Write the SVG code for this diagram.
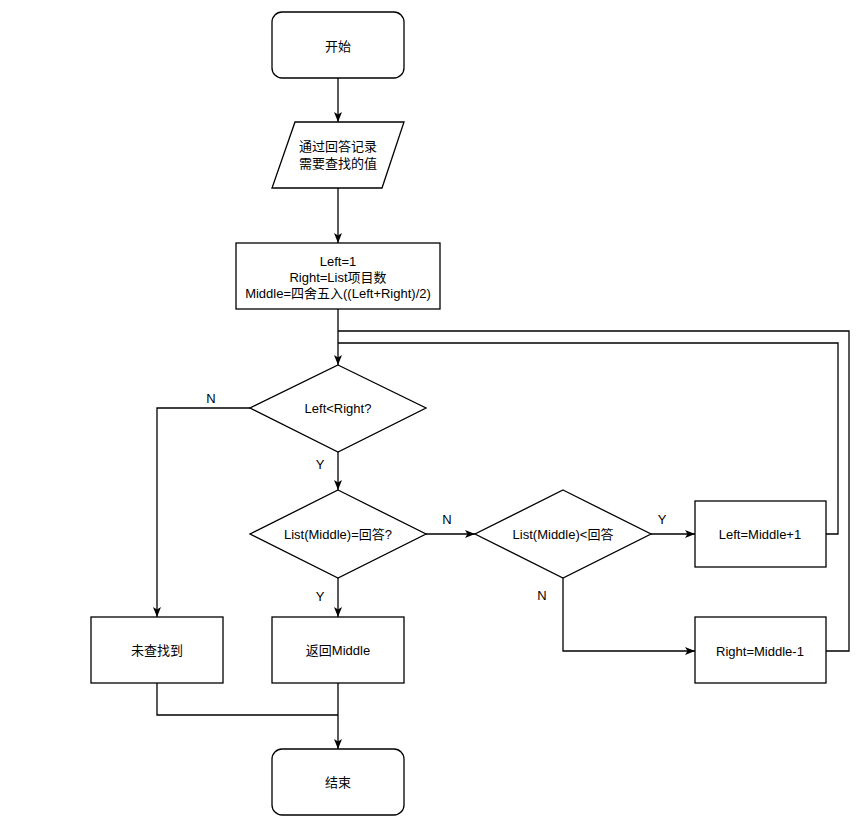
<svg xmlns="http://www.w3.org/2000/svg" width="865" height="837" viewBox="0 0 865 837">
<style>
.shape{fill:#ffffff;stroke:#000000;stroke-width:1.3}
.edge{fill:none;stroke:#000000;stroke-width:1.3}
text{font-family:"Liberation Sans","Noto Sans CJK SC",sans-serif;font-size:13px;fill:#000000;text-anchor:middle;dominant-baseline:central}
</style>
<defs>
<marker id="arr" markerUnits="userSpaceOnUse" markerWidth="10" markerHeight="10" viewBox="0 0 10 10" refX="10" refY="5" orient="auto">
<path d="M0,1 L10,5 L0,9 L2.5,5 Z" fill="#000000"/>
</marker>
</defs>
<rect width="865" height="837" fill="#ffffff"/>
<g id="connectors">
<path class="edge" d="M338,78 V122" marker-end="url(#arr)"/>
<path class="edge" d="M338,188 V243" marker-end="url(#arr)"/>
<path class="edge" d="M338,309 V365" marker-end="url(#arr)"/>
<path class="edge" d="M250,408 H157 V617" marker-end="url(#arr)"/>
<path class="edge" d="M338,452 V490" marker-end="url(#arr)"/>
<path class="edge" d="M338,578 V617" marker-end="url(#arr)"/>
<path class="edge" d="M426,534 H475" marker-end="url(#arr)"/>
<path class="edge" d="M651,534 H695" marker-end="url(#arr)"/>
<path class="edge" d="M563,578 V651 H695" marker-end="url(#arr)"/>
<path class="edge" d="M826,534 H838 V343 H338"/>
<path class="edge" d="M826,651 H849 V331 H338"/>
<path class="edge" d="M157,683 V715 H338"/>
<path class="edge" d="M338,683 V749" marker-end="url(#arr)"/>
<text x="211" y="398">N</text>
<text x="320" y="464">Y</text>
<text x="320" y="596">Y</text>
<text x="447" y="519">N</text>
<text x="662" y="519">Y</text>
<text x="542" y="595">N</text>
</g>
<g id="start">
<rect class="shape" x="272" y="12" width="132" height="66" rx="10"/>
<text x="338" y="46">开始</text>
</g>
<g id="input">
<polygon class="shape" points="295,122 404,122 382,188 272,188"/>
<text x="338" y="146">通过回答记录</text>
<text x="338" y="163">需要查找的值</text>
</g>
<g id="init">
<rect class="shape" x="236" y="243" width="204" height="66"/>
<text x="338" y="261">Left=1</text>
<text x="338" y="277">Right=List项目数</text>
<text x="338" y="293">Middle=四舍五入((Left+Right)/2)</text>
</g>
<g id="cond1">
<polygon class="shape" points="338,365 426,408 338,452 250,408"/>
<text x="338" y="408">Left&lt;Right?</text>
</g>
<g id="cond2">
<polygon class="shape" points="338,490 426,534 338,578 250,534"/>
<text x="338" y="534">List(Middle)=回答?</text>
</g>
<g id="cond3">
<polygon class="shape" points="563,490 651,534 563,578 475,534"/>
<text x="563" y="534">List(Middle)&lt;回答</text>
</g>
<g id="leftBox">
<rect class="shape" x="695" y="501" width="131" height="66"/>
<text x="760" y="534">Left=Middle+1</text>
</g>
<g id="rightBox">
<rect class="shape" x="695" y="617" width="131" height="66"/>
<text x="760" y="651">Right=Middle-1</text>
</g>
<g id="notFound">
<rect class="shape" x="91" y="617" width="132" height="66"/>
<text x="157" y="650">未查找到</text>
</g>
<g id="returnMiddle">
<rect class="shape" x="272" y="617" width="132" height="66"/>
<text x="338" y="650">返回Middle</text>
</g>
<g id="end">
<rect class="shape" x="272" y="749" width="132" height="66" rx="10"/>
<text x="338" y="782">结束</text>
</g>
</svg>
